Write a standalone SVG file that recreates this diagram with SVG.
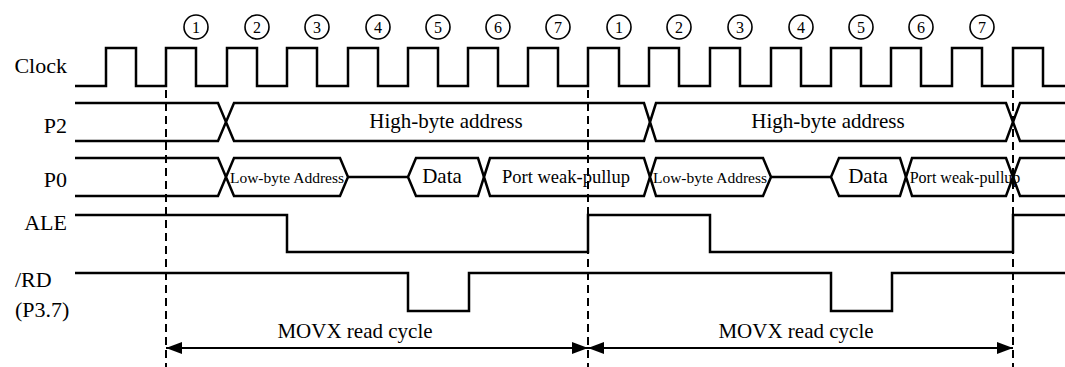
<svg xmlns="http://www.w3.org/2000/svg" width="1065" height="367" viewBox="0 0 1065 367" font-family="'Liberation Serif', 'DejaVu Serif', 'Times New Roman', serif">
<style>
  .sig { fill: none; stroke: #000; stroke-width: 2.5; stroke-linejoin: miter; }
  .bus { fill: #fff; stroke: #000; stroke-width: 2.5; }
  .dash { fill: none; stroke: #000; stroke-width: 2; stroke-dasharray: 8 5; }
  .arr { fill: none; stroke: #000; stroke-width: 1.8; marker-start: url(#ah); marker-end: url(#ah); }
  .cyc { fill: #fff; stroke: #000; stroke-width: 1.6; }
  .lbl { font-size: 22px; }
  .num { font-size: 16px; text-anchor: middle; }
  .mid { text-anchor: middle; }
</style>
<defs>
  <marker id="ah" markerUnits="userSpaceOnUse" viewBox="0 0 16 12" markerWidth="16" markerHeight="12" refX="16" refY="6" orient="auto-start-reverse">
    <path d="M0,0 L16,6 L0,12 z" fill="#000"/>
  </marker>
</defs>

<g id="labels" font-family="Liberation Serif, serif">
  <text class="lbl" x="67" y="73" text-anchor="end">Clock</text>
  <text class="lbl" x="67" y="133" text-anchor="end">P2</text>
  <text class="lbl" x="67" y="187" text-anchor="end">P0</text>
  <text class="lbl" x="67" y="230" text-anchor="end">ALE</text>
  <text class="lbl" x="15" y="287">/RD</text>
  <text class="lbl" x="15" y="317">(P3.7)</text>
</g>

<g id="clock">
  <path class="sig" d="M75,86 H106 V48 H136 V86 H166 V48 H196 V86 H227 V48 H257 V86 H287 V48 H317 V86 H348 V48 H378 V86 H408 V48 H438 V86 H468 V48 H498 V86 H528 V48 H558 V86 H588 V48 H619 V86 H649 V48 H679 V86 H710 V48 H740 V86 H771 V48 H801 V86 H831 V48 H861 V86 H891 V48 H921 V86 H952 V48 H982 V86 H1013 V48 H1043 V86 H1065"/>
</g>

<g id="cycle-numbers" font-family="Liberation Serif, serif">
  <circle class="cyc" cx="196" cy="27" r="12"/><text class="num" x="196" y="33">1</text>
  <circle class="cyc" cx="257" cy="27" r="12"/><text class="num" x="257" y="33">2</text>
  <circle class="cyc" cx="317" cy="27" r="12"/><text class="num" x="317" y="33">3</text>
  <circle class="cyc" cx="378" cy="27" r="12"/><text class="num" x="378" y="33">4</text>
  <circle class="cyc" cx="438" cy="27" r="12"/><text class="num" x="438" y="33">5</text>
  <circle class="cyc" cx="498" cy="27" r="12"/><text class="num" x="498" y="33">6</text>
  <circle class="cyc" cx="558" cy="27" r="12"/><text class="num" x="558" y="33">7</text>
  <circle class="cyc" cx="619" cy="27" r="12"/><text class="num" x="619" y="33">1</text>
  <circle class="cyc" cx="679" cy="27" r="12"/><text class="num" x="679" y="33">2</text>
  <circle class="cyc" cx="740" cy="27" r="12"/><text class="num" x="740" y="33">3</text>
  <circle class="cyc" cx="801" cy="27" r="12"/><text class="num" x="801" y="33">4</text>
  <circle class="cyc" cx="861" cy="27" r="12"/><text class="num" x="861" y="33">5</text>
  <circle class="cyc" cx="921" cy="27" r="12"/><text class="num" x="921" y="33">6</text>
  <circle class="cyc" cx="982" cy="27" r="12"/><text class="num" x="982" y="33">7</text>
</g>

<g id="p2" font-family="Liberation Serif, serif">
  <path class="sig" d="M75,103 H218 L226,122 L218,141 H75"/>
  <polygon class="bus" points="226,122 234,103 644,103 650,122 644,141 234,141"/>
  <polygon class="bus" points="650,122 656,103 1006,103 1013,122 1006,141 656,141"/>
  <path class="sig" d="M1065,103 H1020 L1013,122 L1020,141 H1065"/>
  <text class="mid" x="446" y="128" font-size="21">High-byte address</text>
  <text class="mid" x="828" y="128" font-size="21">High-byte address</text>
</g>

<g id="p0" font-family="Liberation Serif, serif">
  <path class="sig" d="M75,158 H218 L226,177 L218,196 H75"/>
  <polygon class="bus" points="226,177 234,158 340,158 348,177 340,196 234,196"/>
  <path class="sig" d="M348,177 H408"/>
  <polygon class="bus" points="408,177 416,158 478,158 484,177 478,196 416,196"/>
  <polygon class="bus" points="484,177 490,158 644,158 650,177 644,196 490,196"/>
  <polygon class="bus" points="650,177 656,158 763,158 771,177 763,196 656,196"/>
  <path class="sig" d="M771,177 H831"/>
  <polygon class="bus" points="831,177 839,158 900,158 906,177 900,196 839,196"/>
  <polygon class="bus" points="906,177 912,158 1006,158 1013,177 1006,196 912,196"/>
  <path class="sig" d="M1065,158 H1020 L1013,177 L1020,196 H1065"/>
  <text class="mid" x="287" y="183" font-size="15.5">Low-byte Address</text>
  <text class="mid" x="442" y="183" font-size="21">Data</text>
  <text class="mid" x="566" y="183" font-size="18.5">Port weak-pullup</text>
  <text class="mid" x="710" y="183" font-size="15.5">Low-byte Address</text>
  <text class="mid" x="868" y="183" font-size="21">Data</text>
  <text class="mid" x="965" y="183" font-size="16">Port weak-pullup</text>
</g>

<g id="ale">
  <path class="sig" d="M75,215 H287 V252 H588 V215 H710 V252 H1013 V215 H1065"/>
</g>

<g id="rd">
  <path class="sig" d="M75,273 H408 V311 H469 V273 H831 V311 H892 V273 H1065"/>
</g>

<g id="connectors" font-family="Liberation Serif, serif">
  <line class="dash" x1="166" y1="90" x2="166" y2="367"/>
  <line class="dash" x1="588" y1="90" x2="588" y2="367"/>
  <line class="dash" x1="1013" y1="90" x2="1013" y2="367"/>
  <line class="arr" x1="166" y1="348" x2="588" y2="348"/>
  <line class="arr" x1="588" y1="348" x2="1013" y2="348"/>
  <text class="mid" x="355" y="338" font-size="21">MOVX read cycle</text>
  <text class="mid" x="796" y="338" font-size="21">MOVX read cycle</text>
</g>
</svg>
